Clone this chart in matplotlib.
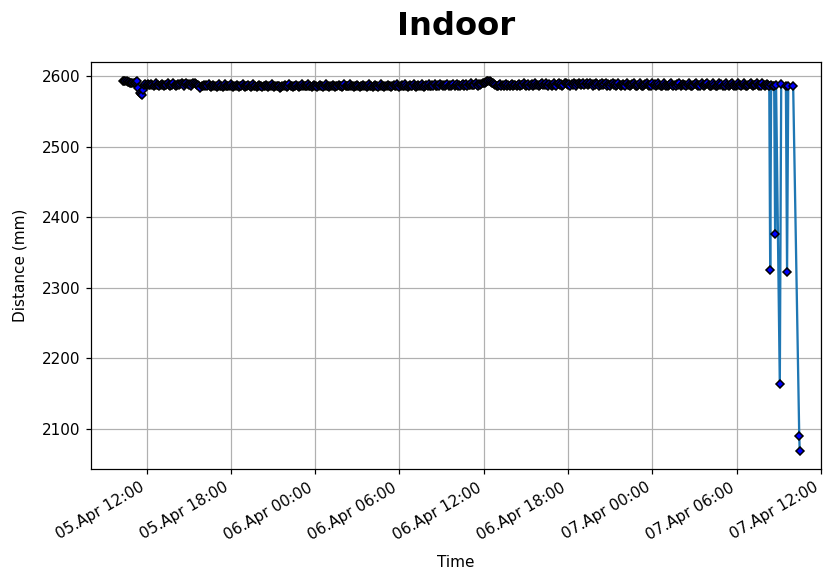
"""Distance sensor readings for the indoor unit."""

import matplotlib

matplotlib.use("Agg")
import matplotlib.dates as mdates
import matplotlib.pyplot as plt
import pandas as pd

# steady readings, one every 5 minutes from 05 Apr 10:20 to 07 Apr 08:15
# (one row per hour)
BAND_START = "2023-04-05 10:20"
BAND_STEP = "5min"
band_values = [
    2594, 2594, 2593, 2593, 2592, 2592, 2591, 2591, 2590, 2590, 2590, 2592,
    2593, 2584, 2576, 2575, 2573, 2581, 2588, 2589, 2588, 2589, 2588, 2588,
    2589, 2588, 2586, 2588, 2590, 2588, 2588, 2586, 2588, 2589, 2588, 2587,
    2588, 2588, 2590, 2588, 2586, 2588, 2588, 2590, 2588, 2586, 2588, 2589,
    2588, 2589, 2590, 2589, 2587, 2589, 2591, 2589, 2588, 2589, 2587, 2589,
    2590, 2591, 2589, 2588, 2588, 2587, 2584, 2586, 2587, 2588, 2586, 2588,
    2587, 2589, 2587, 2585, 2587, 2588, 2587, 2586, 2585, 2587, 2589, 2587,
    2587, 2585, 2587, 2589, 2587, 2586, 2587, 2586, 2589, 2587, 2585, 2587,
    2587, 2588, 2586, 2585, 2587, 2587, 2589, 2587, 2585, 2587, 2586, 2588,
    2587, 2585, 2587, 2589, 2587, 2586, 2585, 2587, 2588, 2587, 2586, 2585,
    2587, 2586, 2588, 2587, 2585, 2587, 2586, 2589, 2587, 2585, 2587, 2587,
    2587, 2586, 2584, 2585, 2587, 2586, 2588, 2587, 2585, 2587, 2589, 2587,
    2587, 2585, 2587, 2586, 2588, 2587, 2585, 2587, 2587, 2589, 2587, 2586,
    2586, 2587, 2589, 2587, 2586, 2585, 2587, 2588, 2587, 2586, 2585, 2587,
    2588, 2587, 2586, 2585, 2587, 2589, 2587, 2586, 2585, 2587, 2587, 2588,
    2587, 2585, 2587, 2586, 2588, 2587, 2586, 2585, 2587, 2589, 2587, 2586,
    2586, 2587, 2589, 2587, 2586, 2585, 2587, 2587, 2588, 2587, 2585, 2587,
    2587, 2588, 2587, 2586, 2585, 2587, 2589, 2587, 2587, 2585, 2587, 2588,
    2587, 2586, 2585, 2587, 2589, 2587, 2586, 2585, 2587, 2587, 2588, 2587,
    2587, 2585, 2587, 2588, 2587, 2586, 2589, 2587, 2585, 2587, 2588, 2587,
    2587, 2589, 2587, 2585, 2587, 2588, 2587, 2586, 2589, 2587, 2585, 2587,
    2588, 2587, 2586, 2589, 2587, 2585, 2587, 2588, 2587, 2589, 2587, 2586,
    2588, 2587, 2589, 2587, 2586, 2588, 2587, 2589, 2588, 2586, 2588, 2587,
    2588, 2589, 2587, 2588, 2586, 2588, 2589, 2587, 2588, 2589, 2586, 2588,
    2587, 2588, 2589, 2586, 2588, 2589, 2587, 2588, 2588, 2590, 2588, 2588,
    2588, 2590, 2588, 2587, 2589, 2588, 2589, 2590, 2590, 2591, 2592, 2593,
    2594, 2593, 2592, 2591, 2590, 2589, 2588, 2587, 2586, 2588, 2589, 2587,
    2588, 2586, 2588, 2589, 2587, 2588, 2586, 2588, 2589, 2587, 2588, 2588,
    2586, 2588, 2589, 2587, 2588, 2588, 2590, 2588, 2586, 2588, 2589, 2587,
    2588, 2589, 2587, 2588, 2590, 2588, 2588, 2586, 2588, 2589, 2590, 2588,
    2588, 2590, 2588, 2587, 2589, 2588, 2587, 2588, 2590, 2588, 2587, 2589,
    2590, 2588, 2589, 2587, 2588, 2590, 2591, 2589, 2588, 2589, 2587, 2589,
    2588, 2590, 2589, 2587, 2589, 2591, 2589, 2588, 2589, 2590, 2588, 2589,
    2590, 2588, 2589, 2591, 2589, 2587, 2589, 2588, 2590, 2589, 2587, 2589,
    2588, 2590, 2588, 2589, 2590, 2587, 2589, 2588, 2587, 2589, 2590, 2588,
    2589, 2587, 2588, 2590, 2588, 2586, 2588, 2589, 2588, 2587, 2590, 2588,
    2588, 2586, 2588, 2589, 2590, 2588, 2587, 2586, 2588, 2590, 2588, 2587,
    2586, 2588, 2589, 2590, 2588, 2586, 2588, 2587, 2590, 2588, 2589, 2586,
    2588, 2590, 2588, 2587, 2586, 2588, 2590, 2588, 2587, 2586, 2588, 2589,
    2590, 2588, 2586, 2588, 2587, 2589, 2588, 2590, 2586, 2588, 2589, 2588,
    2588, 2586, 2588, 2590, 2588, 2587, 2586, 2588, 2589, 2590, 2588, 2586,
    2588, 2587, 2590, 2588, 2586, 2588, 2589, 2590, 2588, 2587, 2586, 2588,
    2590, 2588, 2587, 2586, 2588, 2590, 2588, 2589, 2586, 2588, 2587, 2590,
    2588, 2586, 2588, 2589, 2590, 2588, 2587, 2586, 2588, 2590, 2588, 2588,
    2586, 2588, 2590, 2588, 2587, 2586, 2588, 2589, 2590, 2588, 2586, 2588,
    2588, 2590, 2588, 2586, 2588, 2587, 2590, 2588, 2586, 2588, 2589, 2588,
]

# irregular readings at the end of the run
tail_times = [
    "2023-04-07 08:19", "2023-04-07 08:23", "2023-04-07 08:27",
    "2023-04-07 08:35", "2023-04-07 08:40", "2023-04-07 08:44",
    "2023-04-07 08:48", "2023-04-07 09:04", "2023-04-07 09:10",
    "2023-04-07 09:30", "2023-04-07 09:35", "2023-04-07 09:40",
    "2023-04-07 10:01", "2023-04-07 10:27", "2023-04-07 10:29",
]
tail_values = [
    2587, 2325, 2588,
    2587, 2586, 2376,
    2588, 2163, 2589,
    2587, 2322, 2587,
    2587, 2090, 2069,
]

X_RANGE = ("2023-04-05 08:03", "2023-04-07 12:00")
DPI = 110


def main():
    band_times = pd.date_range(BAND_START, periods=len(band_values), freq=BAND_STEP)
    times = list(band_times) + list(pd.to_datetime(tail_times))
    values = band_values + tail_values

    fig, ax = plt.subplots(figsize=(823 / DPI, 575 / DPI), dpi=DPI)
    fig.subplots_adjust(left=0.1106, right=0.9976, top=0.892, bottom=0.184)

    ax.plot(times, values, color="tab:blue", linewidth=1.5,
            marker="D", markersize=3.6, markerfacecolor="blue",
            markeredgecolor="black", markeredgewidth=1)

    ax.set_xlim(pd.Timestamp(X_RANGE[0]), pd.Timestamp(X_RANGE[1]))
    ax.xaxis.set_major_locator(mdates.HourLocator(byhour=[0, 6, 12, 18]))
    ax.xaxis.set_major_formatter(mdates.DateFormatter("%d.%b %H:%M"))
    plt.setp(ax.get_xticklabels(), rotation=30, ha="right")

    ax.grid(True)
    ax.set_xlabel("Time", labelpad=8)
    ax.set_ylabel("Distance (mm)", labelpad=9)
    ax.set_title("Indoor", fontsize=21, fontweight="bold", pad=18)

    fig.savefig("out.png", dpi=DPI)
    plt.close(fig)


if __name__ == "__main__":
    main()
